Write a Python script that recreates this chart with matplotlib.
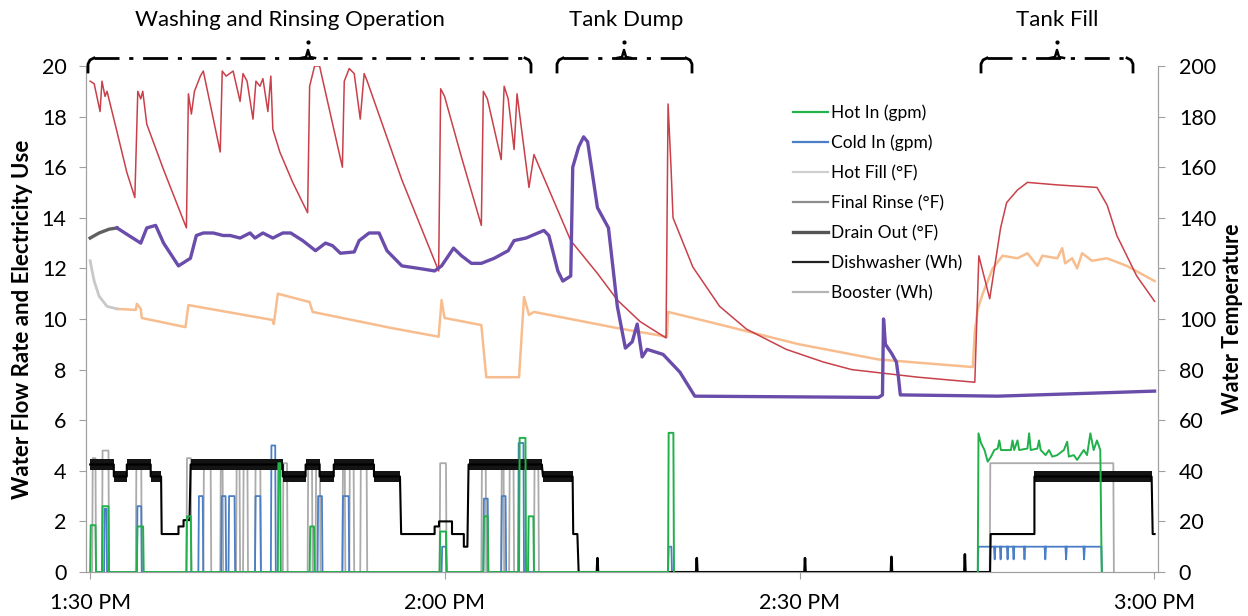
import matplotlib
matplotlib.use("Agg")
import matplotlib.pyplot as plt
from matplotlib.lines import Line2D
import numpy as np

plt.rcParams['font.family'] = ['Lato', 'DejaVu Sans']

# ---------------- data (time in minutes after 1:30 PM) ----------------
x_ticks = [0, 30, 60, 90]
x_ticklabels = ["1:30 PM", "2:00 PM", "2:30 PM", "3:00 PM"]

# temperature series (°F, right axis)
red_t = [0, 0.34, 0.84, 1.0, 1.26, 1.43, 2.27, 3.1, 3.78, 4.03, 4.28, 4.45, 4.79, 6.21, 8.14, 8.31, 8.56,
         8.82, 9.32, 9.57, 11.0, 11.17, 11.5, 12.09, 12.68, 12.93, 13.27, 13.77, 14.02, 14.36, 14.61,
         15.03, 15.28, 15.45, 16.04, 17.13, 18.39, 18.56, 18.98, 19.4, 21.33, 21.49, 21.91, 22.33, 22.84,
         23.17, 23.43, 26.36, 29.47, 29.64, 29.97, 31.4, 33.08, 33.25, 33.59, 34.76, 35.01, 35.35, 35.85,
         36.1, 37.11, 37.53, 40.64, 42.9, 44.58, 46.5, 48.7, 48.87, 49.12, 49.29, 50.97, 53.23, 55.5,
         58.86, 62.0, 64.4, 70.0, 74.81, 75.15, 76.07, 76.99, 77.5, 78.42, 79.26, 81.78, 85.14, 86.0,
         86.82, 88.5, 90.01]
red_v = [194, 193, 182, 194, 188, 190, 174, 158, 148, 190, 187, 190, 177, 159, 136, 189, 181,
         190, 196, 198, 166, 198, 196, 198, 186, 197, 194, 179, 194, 192, 195,
         182, 196, 175, 166, 154, 142, 192, 200, 200, 160, 194, 199, 197, 179,
         197, 194, 155, 119, 191, 188, 164, 137, 190, 187, 163, 192, 187, 167,
         189, 152, 165, 131, 118, 107.5, 99, 92.5, 185, 160, 140, 120.5, 105, 96,
         88, 83, 80, 77, 75, 125, 108, 136, 146, 151, 154, 153, 152, 145,
         133, 117, 107]

purple_t = [2.27, 3.27, 4.28, 4.79, 5.54, 6.21, 7.47, 8.48, 8.98, 9.57, 10.41, 11.25, 11.84, 12.68, 13.52,
            13.94, 14.61, 15.45, 16.29, 16.96, 17.97, 19.06, 19.9, 20.49, 21.16, 22.33, 22.75, 23.59, 24.43,
            25.1, 26.36, 27.79, 29.13, 29.72, 30.73, 31.4, 32.24, 33.08, 34.17, 35.35, 35.85, 36.86, 38.37,
            38.79, 39.55, 39.97, 40.64, 40.81, 41.31, 41.73, 42.07, 42.9, 43.83, 44.58, 45.26, 45.84, 46.26,
            46.68, 47.1, 48.45, 49.87, 51.13, 66.67, 67.0, 67.09, 67.25, 67.76, 68.18, 68.35, 68.51, 76.74,
            86.82, 90.01]
purple_v = [136, 133, 130, 136, 137, 130, 121, 124, 133, 134, 134, 133, 133, 132, 134,
            132, 134, 132, 134, 134, 131, 127, 130, 129, 126, 126.5, 131, 134, 134,
            127, 121, 120, 119, 121, 128, 125, 122, 122, 124, 127, 131, 132, 135,
            133, 119, 115, 117, 160, 168, 172, 170, 144, 136, 105, 88.5, 91, 98,
            85, 88, 86, 79, 69.5, 69, 70, 100, 90, 86.5, 83, 77, 70, 69.5,
            71, 71.5]

drain_t = [0, 0.76, 1.6, 2.27]
drain_v = [132, 134, 135.5, 136]

hotfill_t = [0, 0.34, 0.76, 1.43, 2.27]
hotfill_v = [123, 115, 109, 105, 104]

orange_t = [2.27, 3.86, 3.95, 4.28, 4.37, 8.06, 8.31, 15.45, 15.53, 15.87, 18.56, 18.81, 25.52, 29.47,
            29.72, 29.97, 33.08, 33.5, 36.27, 36.69, 37.11, 37.53, 44.58, 48.78, 48.87, 52.39, 59.95,
            66.67, 74.64, 74.81, 75.06, 75.48, 76.32, 77.16, 78.42, 79.26, 80.1, 80.52, 81.78, 82.2,
            82.45, 83.04, 83.46, 83.88, 84.72, 85.98, 87.66, 90.01]
orange_v = [104, 103.6, 106, 104, 100.4, 96.8, 105.5, 99.6, 98, 110, 106.7, 102.8, 96.4, 93,
            107.5, 100.4, 97.6, 77, 77, 108.7, 101.6, 102.8, 96.4, 93, 102.8, 98.8, 90,
            84, 81, 95, 104, 110, 120, 125, 124, 126, 121, 125, 124, 128,
            122, 124, 120, 126, 123, 124, 121, 115]

# flow / energy series (left axis): pulses (start, end, height)
booster_pulses = [(0.17, 0.5, 4.5), (1.0, 1.6, 4.8), (3.86, 4.37, 4.3), (8.14, 8.56, 4.5), (9.57, 10.24, 4.3),
                  (11.0, 11.25, 4.3), (12.34, 12.68, 4.3), (12.93, 13.35, 4.3), (13.94, 14.44, 4.3),
                  (16.29, 16.7, 4.3), (18.39, 18.81, 4.3), (19.06, 19.48, 4.3), (21.33, 21.58, 4.3),
                  (21.91, 22.33, 4.3), (22.84, 23.43, 4.3), (29.55, 30.14, 4.3), (33.08, 33.5, 4.3),
                  (34.76, 35.01, 4.3), (35.43, 35.85, 4.3), (37.53, 37.95, 4.3), (76.07, 86.57, 4.3)]
cold_pulses = [(1.18, 1.43, 2.5), (3.95, 4.37, 2.6), (9.15, 9.57, 3.0), (11.08, 11.5, 3.0), (11.7, 12.26, 3.0),
               (13.94, 14.44, 3.0), (15.28, 15.7, 5.0), (19.23, 19.65, 3.0), (21.33, 21.91, 3.0),
               (29.72, 30.14, 1.0), (33.25, 33.67, 2.9), (34.76, 35.18, 3.0), (36.19, 36.69, 5.1),
               (48.87, 49.2, 1.0), (75.06, 85.56, 1.0)]
cold_dips = [76.49, 76.99, 77.58, 78.09, 79.01, 80.77, 82.53, 84.05]
cold_dip_value = 0.5
hot_pulses = [(0.0, 0.5, 1.85), (1.0, 1.6, 2.6), (3.95, 4.53, 1.8), (8.14, 8.56, 2.2), (15.87, 16.12, 4.3),
              (18.56, 18.98, 1.8), (29.55, 30.14, 1.6), (33.25, 33.67, 2.2), (36.27, 36.86, 5.3),
              (37.03, 37.53, 2.2), (48.87, 49.37, 5.5)]
hot_fill_t = [75.06, 75.12, 75.34, 75.63, 75.9, 76.18, 76.46, 76.74, 76.88, 77.02, 77.86, 78.0, 78.14, 78.42,
              78.56, 79.26, 79.4, 79.54, 80.1, 80.24, 80.38, 80.8, 81.08, 81.36, 81.78, 82.34, 82.62, 82.76,
              83.18, 83.46, 84.02, 84.3, 84.58, 84.86, 85.14, 85.42, 85.54]
hot_fill_v = [0, 5.48, 5.09, 4.82, 4.36, 4.56, 4.82, 4.88, 5.2, 4.82, 4.82, 5.2, 4.82, 5.2,
              4.82, 4.88, 5.48, 4.82, 4.88, 5.2, 4.82, 4.62, 4.82, 4.56, 4.62, 4.82, 5.15, 4.56,
              4.62, 4.43, 4.82, 4.62, 5.48, 4.82, 5.2, 4.82, 0]

# dishwasher: (start, end, low, high) -- low != high means rapid cycling band
dish_segments = [(0, 2.0, 4.05, 4.45), (2.0, 3.1, 3.55, 4.0), (3.1, 5.12, 4.05, 4.45), (5.12, 6.0, 3.55, 4.0),
                 (6.05, 7.47, 1.5, 1.5), (7.47, 7.9, 1.8, 1.8), (7.9, 8.4, 2.05, 2.05),
                 (8.5, 16.29, 4.05, 4.45), (16.29, 18.22, 3.55, 4.0), (18.22, 19.4, 4.05, 4.45),
                 (19.4, 20.6, 3.55, 4.0), (20.6, 24.0, 4.05, 4.45), (24.0, 26.2, 3.55, 4.0),
                 (26.3, 29.13, 1.5, 1.5), (29.13, 29.5, 1.8, 1.8), (29.5, 30.6, 2.0, 2.0),
                 (30.6, 31.6, 1.5, 1.5), (31.6, 31.9, 1.0, 1.0), (32.0, 38.2, 4.05, 4.45),
                 (38.29, 40.8, 3.55, 4.0), (40.85, 41.2, 1.5, 1.5), (41.31, 76.1, 0, 0),
                 (76.15, 79.85, 1.5, 1.5), (79.85, 89.76, 3.55, 4.0), (89.85, 90.01, 1.5, 1.5)]
dish_spikes = [(42.9, 0.55), (51.3, 0.55), (60.45, 0.55), (67.76, 0.6), (73.97, 0.7)]

# ---------------- helpers ----------------
def pulses_to_xy(pulses, ramp=0.05):
    xs, ys = [], []
    for t0, t1, h in pulses:
        xs += [t0, t0 + ramp, t1 - ramp, t1]
        ys += [0, h, h, 0]
    return xs, ys

# ---------------- figure ----------------
fig = plt.figure(figsize=(12.48, 6.16), dpi=100)
ax = fig.add_axes([86 / 1248, 44 / 616, 1072 / 1248, 506 / 616])
ax2 = ax.twinx()

ax.set_xlim(-0.35, 90.3)
ax.set_ylim(0, 20)
ax2.set_ylim(0, 200)

# left-axis series
bx, by = pulses_to_xy(booster_pulses)
ax.plot(bx, by, color="#ABABAB", lw=1.3, zorder=2)

cx, cy = pulses_to_xy(cold_pulses)
ax.plot(cx, cy, color="#4A7EC6", lw=1.3, zorder=3)
for d in cold_dips:
    ax.plot([d - 0.06, d, d + 0.06], [1.0, cold_dip_value, 1.0], color="#4A7EC6", lw=1.3, zorder=3)

hx, hy = pulses_to_xy(hot_pulses)
ax.plot(hx, hy, color="#22B04B", lw=1.4, zorder=4)
ax.plot(hot_fill_t, hot_fill_v, color="#22B04B", lw=1.4, zorder=4)

# dishwasher
dx, dy = [], []
for t0, t1, lo, hi in dish_segments:
    mid = (lo + hi) / 2
    dx += [t0, t1]
    dy += [mid, mid]
    if hi > lo:
        ax.fill_between([t0, t1], [lo, lo], [hi, hi], color="#141414", lw=0, zorder=3.5)
ax.plot(dx, dy, color="black", lw=1.5, zorder=3.6)
for t, h in dish_spikes:
    ax.plot([t - 0.05, t, t + 0.05], [0, h, 0], color="black", lw=1.8, zorder=3.6)

# right-axis (temperature) series
ax2.plot(orange_t, orange_v, color="#F8BD8E", lw=1.8, zorder=2)
ax2.plot(hotfill_t, hotfill_v, color="#C8C8C8", lw=2.0, zorder=2)
ax2.plot(red_t, red_v, color="#C9404A", lw=1.1, zorder=3)
ax2.plot(drain_t, drain_v, color="#606060", lw=2.4, zorder=3)
ax2.plot(purple_t, purple_v, color="#6A4CAB", lw=2.4, zorder=4)

# axes styling
for a in (ax, ax2):
    for s in a.spines.values():
        s.set_color("#A0A0A0")
    a.spines["top"].set_visible(False)
ax.set_xticks(x_ticks)
ax.set_xticklabels(x_ticklabels)
ax.set_yticks(range(0, 21, 2))
ax2.set_yticks(range(0, 201, 20))
ax.tick_params(axis="x", direction="out", length=5, color="#A0A0A0", pad=10, labelsize=15.5)
ax.tick_params(axis="y", direction="out", length=5, color="#A0A0A0", pad=9, labelsize=15.5)
ax2.tick_params(axis="y", direction="out", length=5, color="#A0A0A0", pad=10, labelsize=15.5)
ax.set_ylabel("Water Flow Rate and Electricity Use", fontsize=16, fontweight="bold", labelpad=6)
ax2.set_ylabel("Water Temperature", fontsize=15.5, fontweight="bold", labelpad=4)
ax2.set_zorder(ax.get_zorder() + 1)
ax2.patch.set_visible(False)

# legend
handles = [Line2D([], [], color="#22B04B", lw=1.6),
           Line2D([], [], color="#4A7EC6", lw=1.6),
           Line2D([], [], color="#D0D0D0", lw=1.6),
           Line2D([], [], color="#8C8C8C", lw=1.6),
           Line2D([], [], color="#555555", lw=2.4),
           Line2D([], [], color="#222222", lw=1.6),
           Line2D([], [], color="#B5B5B5", lw=1.6)]
labels = ["Hot In (gpm)", "Cold In (gpm)", "Hot Fill (°F)", "Final Rinse (°F)",
          "Drain Out (°F)", "Dishwasher (Wh)", "Booster (Wh)"]
ax2.legend(handles, labels, loc="upper left", bbox_to_anchor=(0.645, 0.955), frameon=False,
           fontsize=12.5, labelspacing=0.8, handlelength=2.0, handletextpad=0.2)

# phase annotations (overlay in pixel coordinates)
ov = fig.add_axes([0, 0, 1, 1], zorder=10)
ov.set_xlim(0, 1248)
ov.set_ylim(616, 0)
ov.axis("off")
phases = [("Washing and Rinsing Operation", 88, 531, 308, 290),
          ("Tank Dump", 557, 692, 624, 626),
          ("Tank Fill", 981, 1133, 1057, 1057)]
for name, x0, x1, xc, xt in phases:
    ov.plot([x0 + 6, x1 - 6], [58, 58], color="black", lw=2.0, dashes=(9, 3.5, 1.5, 3.5))
    ov.plot([x0 + 6, x0 + 2, x0, x0], [58, 60, 64, 72], color="black", lw=2.0)
    ov.plot([x1 - 6, x1 - 2, x1, x1], [58, 60, 64, 72], color="black", lw=2.0)
    ov.plot([xc - 7, xc - 2, xc, xc + 2, xc + 7], [58, 57, 50, 57, 58], color="black", lw=1.8)
    ov.plot([xc], [42], marker="o", ms=2, color="black")
    ov.text(xt, 20, name, ha="center", va="center", fontsize=16)

fig.savefig("out.png", dpi=100)
